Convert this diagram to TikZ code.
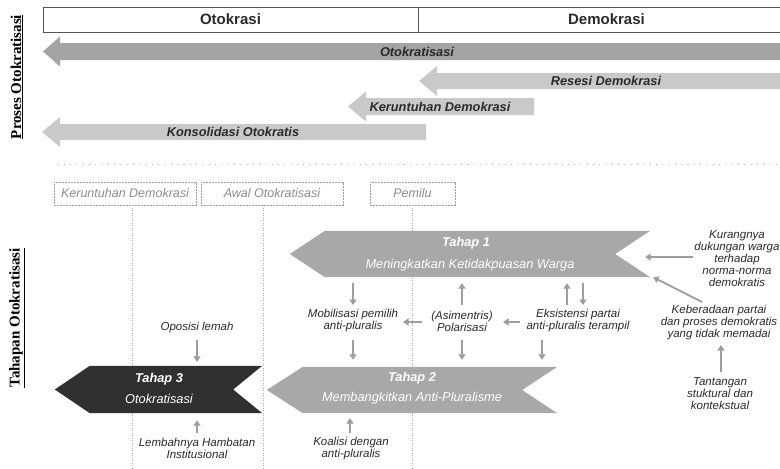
\documentclass[tikz,border=0pt]{standalone}
\usepackage{fontspec}
\setmainfont{Liberation Sans}
\newfontfamily\labelserif{Liberation Serif}
\usetikzlibrary{arrows.meta,calc}
\definecolor{hdr}{HTML}{555555}
\definecolor{procdark}{HTML}{A4A4A4}
\definecolor{proclight}{HTML}{C9C9C9}
\definecolor{stagemid}{HTML}{A8A8A8}
\definecolor{stagedark}{HTML}{303030}
\definecolor{arr}{HTML}{9E9E9E}
\definecolor{txt}{HTML}{2A2A2A}
\definecolor{faint}{HTML}{8C8C8C}
\definecolor{dotc}{HTML}{ABABAB}
\begin{document}
\begin{tikzpicture}[x=1pt,y=-1pt,
  lbl/.style={font=\fontsize{11.5}{12}\selectfont\itshape, text=txt, align=center, inner sep=0pt},
  sarrow/.style={draw=arr, line width=1.8pt, -{Triangle[width=7pt,length=5.5pt]}},
  stagetitle/.style={font=\fontsize{12.8}{14}\selectfont\bfseries\itshape, text=white, inner sep=0pt},
  stagesub/.style={font=\fontsize{12.8}{14}\selectfont\itshape, text=white, inner sep=0pt},
  proclbl/.style={font=\fontsize{12.8}{14}\selectfont\bfseries\itshape, text=txt, inner sep=0pt},
  phase/.style={draw=faint!85, dash pattern=on 2pt off 1pt, line width=0.8pt, font=\fontsize{12.5}{14}\selectfont\itshape, text=faint, inner sep=0pt, minimum height=23pt},
  vline/.style={draw=dotc, line width=0.8pt, dash pattern=on 1pt off 1.5pt},
  sidelbl/.style={rotate=90, font=\labelserif\fontsize{15}{17}\selectfont\bfseries, text=black, inner sep=0pt},
  stagebox/.style={minimum width=#1, minimum height=46pt, inner sep=0pt},
  hdrbox/.style={draw=hdr, line width=1pt, minimum height=25pt, inner sep=0pt, font=\fontsize{15}{17}\selectfont\bfseries, text=txt}
]
\useasboundingbox (0,0) rectangle (780,469);
\fill[white] (0,0) rectangle (780,469);

% header
\node[hdrbox, minimum width=375pt] (oto) at (230.5,19.5) {Otokrasi};
\node[hdrbox, minimum width=377pt] (dem) at (606.5,19.5) {Demokrasi};

% process arrows
\fill[procdark] (43,51.5) -- (60,36.5) -- (60,43) -- (800,43) -- (800,60) -- (60,60) -- (60,66.5) -- cycle;
\node[proclbl] (po) at (417,51.5) {Otokratisasi};
\fill[proclight] (419,81) -- (437,66) -- (437,73) -- (800,73) -- (800,89) -- (437,89) -- (437,96) -- cycle;
\node[proclbl] (pr) at (606,81) {Resesi Demokrasi};
\fill[proclight] (348,106.5) -- (366,91.5) -- (366,98) -- (534,98) -- (534,115) -- (366,115) -- (366,121.5) -- cycle;
\node[proclbl] (pk2) at (440,106.5) {Keruntuhan Demokrasi};
\fill[proclight] (42,132) -- (60,117) -- (60,124) -- (426,124) -- (426,140) -- (60,140) -- (60,147) -- cycle;
\node[proclbl] (pc) at (233,132) {Konsolidasi Otokratis};

% side labels
\node[sidelbl] (sl1) at (17,77) {\underline{Proses Otokratisasi}};
\node[sidelbl] (sl2) at (17,318) {\underline{Tahapan Otokratisasi}};

% separator
\draw[dotc, line width=1.1pt, line cap=round, dash pattern=on 0pt off 6.3pt] (58,164.5) -- (780,164.5);

% phases
\node[phase, minimum width=142pt] (pk) at (125,193.5) {Keruntuhan Demokrasi};
\node[phase, minimum width=142pt] (pa) at (272,193.5) {Awal Otokratisasi};
\node[phase, minimum width=85pt] (pp) at (412.5,193.5) {Pemilu};
\coordinate (b1) at (132,469);
\coordinate (b2) at (263,469);
\coordinate (b3) at (412.5,469);
\draw[vline] ($(pk.south)+(7,0)$) -- (b1);
\draw[vline] ($(pa.south)+(-9,0)$) -- (b2);
\draw[vline] (pp.south) -- (b3);

% stages
\node[stagebox=360pt] (t1) at (470,254) {};
\fill[stagemid] (t1.west) -- ($(t1.north west)+(35,0)$) -- (t1.north east) -- ($(t1.east)+(-35,0)$) -- (t1.south east) -- ($(t1.south west)+(35,0)$) -- cycle;
\node[stagetitle] (t1a) at (466,243) {Tahap 1};
\node[stagesub] (t1b) at (470,265) {Meningkatkan Ketidakpuasan Warga};

\node[stagebox=290pt] (t2) at (412,390) {};
\fill[stagemid] (t2.west) -- ($(t2.north west)+(36,0)$) -- (t2.north east) -- ($(t2.east)+(-35,0)$) -- (t2.south east) -- ($(t2.south west)+(36,0)$) -- cycle;
\node[stagetitle] (t2a) at (412,378) {Tahap 2};
\node[stagesub] (t2b) at (412,398) {Membangkitkan Anti-Pluralisme};

\node[stagebox=207pt, minimum height=47pt] (t3) at (158.5,389.5) {};
\fill[stagedark] (t3.west) -- ($(t3.north west)+(35,0)$) -- (t3.north east) -- ($(t3.east)+(-29,0)$) -- (t3.south east) -- ($(t3.south west)+(35,0)$) -- cycle;
\node[stagetitle] (t3a) at (159,379) {Tahap 3};
\node[stagesub] (t3b) at (159,399) {Otokratisasi};

% labels
\node[lbl] (mob) at (353,321) {Mobilisasi pemilih\\anti-pluralis};
\node[lbl] (pol) at (462,321) {(Asimentris)\\Polarisasi};
\node[lbl] (eks) at (578,321) {Eksistensi partai\\anti-pluralis terampil};
\node[lbl] (kur) at (737,258.5) {Kurangnya\\dukungan warga\\terhadap\\norma-norma\\demokratis};
\node[lbl] (keb) at (719,322.5) {Keberadaan partai\\dan proses demokratis\\yang tidak memadai};
\node[lbl] (tan) at (720,394) {Tantangan\\stuktural dan\\kontekstual};
\node[lbl] (opo) at (197,328) {Oposisi lemah};
\node[lbl] (lem) at (197,448.5) {Lembahnya Hambatan\\Institusional};
\node[lbl] (koa) at (351,449) {Koalisi dengan\\anti-pluralis};

% connectors
\draw[sarrow] ($(t1.south -| mob)+(0,6)$) -- ($(mob)+(0,-16)$);
\draw[sarrow] ($(mob)+(0,19)$) -- ($(t2.north -| mob)+(0,-7)$);
\draw[sarrow] ($(pol)+(0,-16)$) -- ($(t1.south -| pol)+(0,6)$);
\draw[sarrow] ($(pol)+(0,19)$) -- ($(t2.north -| pol)+(0,-7)$);
\draw[sarrow] ($(pol)+(-40,1)$) -- ($(mob)+(50,1)$);
\draw[sarrow] ($(eks)+(-58,1)$) -- ($(pol)+(41,1)$);
\draw[sarrow] ($(eks)+(-11,-16)$) -- ($(t1.south -| eks)+(-11,6)$);
\draw[sarrow] ($(t1.south -| eks)+(5,6)$) -- ($(eks)+(5,-16)$);
\draw[sarrow] ($(eks)+(-36,19)$) -- ($(t2.north -| eks)+(-36,-7)$);
\draw[sarrow] ($(kur)+(-44,-1.5)$) -- ($(t1.east)+(-5,3)$);
\draw[sarrow] ($(keb)+(-17,-20.5)$) -- ($(t1.south east)+(3,0)$);
\draw[sarrow] ($(tan)+(1,-22)$) -- ($(keb)+(2,22.5)$);
\draw[sarrow] ($(opo)+(0,12)$) -- ($(t3.north -| opo)+(0,-4)$);
\draw[sarrow] ($(lem)+(0,-15.5)$) -- ($(t3.south -| lem)+(0,7)$);
\draw[sarrow] ($(koa)+(-1,-16)$) -- ($(t2.south -| koa)+(-1,5)$);
\end{tikzpicture}
\end{document}
